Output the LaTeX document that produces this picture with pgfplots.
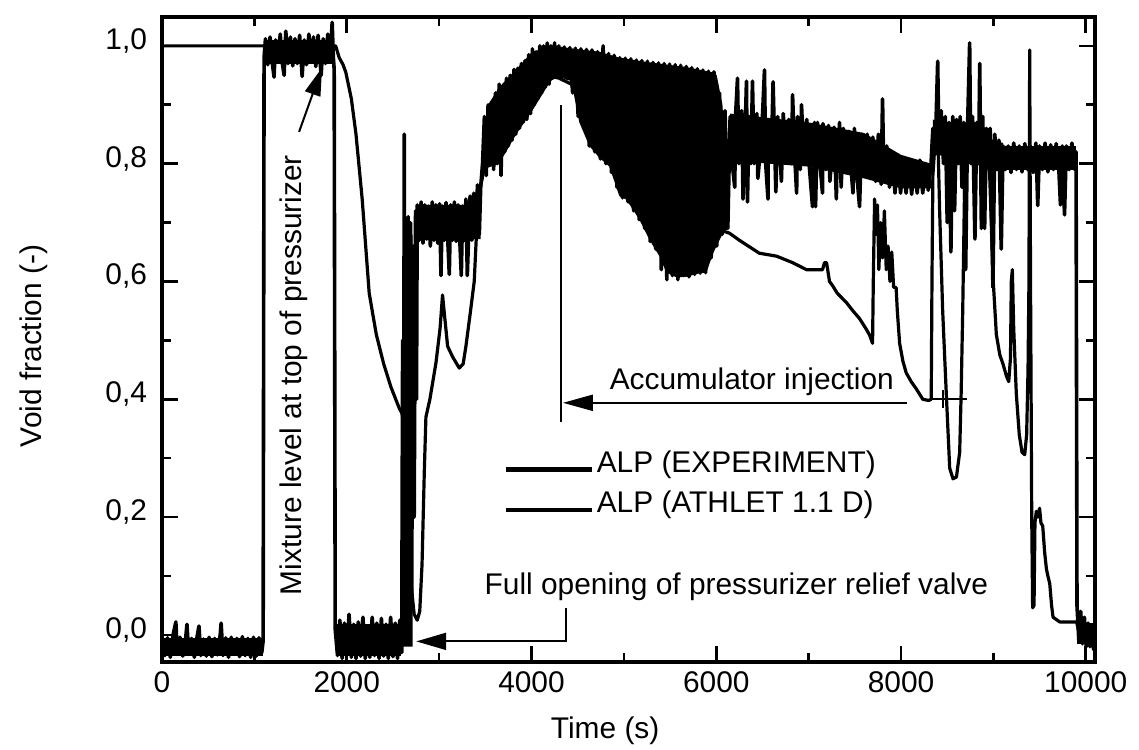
\documentclass[border=0pt]{standalone}
\usepackage{fontspec}
\setmainfont{Liberation Sans}
\usepackage{pgfplots}
\pgfplotsset{compat=1.18}
\usetikzlibrary{arrows.meta}
\newcommand\lbl{\fontsize{15}{18}\selectfont}
\begin{document}
\begin{tikzpicture}
\begin{axis}[
  scale only axis, width=466.5bp, height=322.5bp,
  xmin=0, xmax=10100, ymin=-0.046, ymax=1.049,
  clip=false, scaled x ticks=false, scaled y ticks=false,
  axis line style={line width=1.6bp},
  tick style={black, line width=1.3bp},
  major tick length=8bp, minor tick length=4.5bp,
  tick align=inside,
  xtick={0,2000,4000,6000,8000,10000},
  xticklabels={0,2000,4000,6000,8000,10000},
  minor xtick={1000,3000,5000,7000,9000},
  ytick={0,0.2,0.4,0.6,0.8,1},
  yticklabels={{0,0},{0,2},{0,4},{0,6},{0,8},{1,0}},
  minor ytick={0.1,0.3,0.5,0.7,0.9},
  ticklabel style={font=\lbl},
  xticklabel style={yshift=-1.5bp},
  yticklabel style={xshift=-4bp, yshift=2.5bp},
]
\addplot[fill=black, draw=none] coordinates {(0,-0.036)(1095,-0.036)(1095,-0.006)(0,-0.006)} -- cycle;
\addplot[fill=black, draw=none] coordinates {(1110,0.97)(1860,0.97)(1860,1.01)(1110,1.01)} -- cycle;
\addplot[fill=black, draw=none] coordinates {(1880,-0.036)(2590,-0.036)(2590,0.018)(1880,0.018)} -- cycle;
\addplot[fill=black, draw=none] coordinates {(2605,-0.02)(2712,-0.02)(2712,0.68)(2605,0.62)} -- cycle;
\addplot[fill=black, draw=none] coordinates {(2765,0.67)(3450,0.672)(3450,0.73)(2765,0.73)} -- cycle;
\addplot[fill=black, draw=none] coordinates {(3470,0.79)(3650,0.80)(3835,0.85)(4009,0.89)(4193,0.937)(4250,0.947)(4250,1.0)(4009,0.99)(3835,0.96)(3651,0.93)(3530,0.9)(3470,0.85)} -- cycle;
\addplot[fill=black, draw=none] coordinates {(4250,1.0)(4376,0.997)(4518,0.994)(4735,0.99)(4951,0.98)(5276,0.972)(5677,0.964)(5959,0.955)(6005,0.95)(6067,0.9)(6125,0.75)(6125,0.69)(6067,0.68)(6002,0.66)(5959,0.645)(5894,0.615)(5818,0.614)(5677,0.608)(5570,0.607)(5460,0.615)(5384,0.643)(5276,0.671)(5168,0.705)(5027,0.739)(4951,0.745)(4843,0.795)(4735,0.81)(4626,0.83)(4518,0.87)(4431,0.94)(4250,0.95)} -- cycle;
\addplot[fill=black, draw=none] coordinates {(6150,0.805)(7000,0.795)(7600,0.775)(8000,0.758)(8325,0.758)(8325,0.80)(8000,0.815)(7600,0.852)(7000,0.87)(6150,0.885)} -- cycle;
\addplot[fill=black, draw=none] coordinates {(8345,0.815)(9105,0.805)(9105,0.835)(8345,0.875)} -- cycle;
\addplot[fill=black, draw=none] coordinates {(9130,0.79)(9895,0.79)(9895,0.83)(9130,0.83)} -- cycle;
\addplot[fill=black, draw=none] coordinates {(9905,-0.015)(10090,-0.015)(10090,0.02)(9905,0.02)} -- cycle;
% EXPERIMENT trace
\addplot[black, line width=1.8bp, line join=round] coordinates {
(0,-0.02)(30,-0.035)(60,-0.005)(90,-0.038)(120,0.0)(150,0.022)(165,-0.03)(195,-0.004)(225,-0.036)(255,-0.008)(270,0.018)(290,-0.033)(320,-0.006)(350,-0.038)(380,-0.003)(400,0.015)(420,-0.035)(450,-0.007)(480,-0.036)(510,-0.004)(540,-0.037)(570,-0.006)(600,-0.034)(630,0.0)(640,0.02)(660,-0.035)(690,-0.005)(720,-0.038)(750,-0.004)(780,-0.033)(810,-0.006)(840,-0.037)(870,-0.003)(900,-0.035)(930,-0.006)(960,-0.038)(990,-0.004)(1020,-0.036)(1050,-0.005)(1080,-0.03)(1095,-0.01)
(1105,0.98)(1120,1.012)(1145,0.968)(1170,1.015)(1195,0.97)(1213,0.947)(1230,1.01)(1255,0.972)(1280,1.02)(1305,0.968)(1322,0.95)(1340,1.025)(1365,0.97)(1390,1.015)(1415,0.966)(1440,1.012)(1465,0.97)(1490,1.018)(1517,0.948)(1540,1.01)(1565,0.968)(1590,1.02)(1615,0.972)(1640,1.015)(1665,0.965)(1690,1.018)(1723,0.95)(1745,1.012)(1770,0.97)(1795,1.02)(1820,0.975)(1842,1.04)(1855,0.98)(1864,0.96)
(1875,0.01)(1900,-0.035)(1925,0.025)(1950,-0.04)(1975,0.02)(2000,-0.035)(2025,0.035)(2050,-0.038)(2075,0.018)(2100,-0.04)(2125,0.022)(2150,-0.036)(2175,0.03)(2200,-0.04)(2225,0.015)(2250,-0.038)(2275,0.03)(2300,-0.035)(2325,0.02)(2350,-0.04)(2375,0.028)(2400,-0.036)(2425,0.018)(2450,-0.04)(2475,0.03)(2500,-0.037)(2525,0.02)(2550,-0.04)(2575,0.025)(2595,-0.03)
(2605,0.5)(2615,0.02)(2622,0.85)(2630,0.05)(2645,0.68)(2655,0.1)(2665,0.71)(2678,0.15)(2690,0.7)(2703,0.05)(2716,0.66)(2730,0.2)(2745,0.72)(2755,0.4)
(2763,0.73)(2785,0.67)(2805,0.735)(2825,0.665)(2845,0.73)(2865,0.672)(2885,0.728)(2905,0.66)(2925,0.735)(2945,0.67)(2965,0.73)(2985,0.665)(3005,0.732)(3020,0.61)(3035,0.728)(3055,0.67)(3075,0.734)(3095,0.665)(3110,0.612)(3125,0.73)(3145,0.67)(3165,0.735)(3185,0.668)(3205,0.73)(3225,0.665)(3240,0.61)(3255,0.728)(3275,0.67)(3290,0.74)(3305,0.61)(3320,0.68)(3335,0.745)(3355,0.67)(3375,0.75)(3395,0.675)(3415,0.764)(3435,0.68)(3450,0.76)
(3470,0.80)(3490,0.88)(3510,0.78)(3530,0.9)(3550,0.8)(3570,0.905)(3590,0.79)(3610,0.92)(3630,0.8)(3650,0.935)(3670,0.78)(3690,0.93)(3710,0.82)(3730,0.945)(3750,0.83)(3770,0.95)(3790,0.84)(3810,0.96)(3830,0.85)(3850,0.962)(3870,0.86)(3890,0.97)(3910,0.87)(3930,0.975)(3950,0.875)(3970,0.985)(3990,0.885)(4010,0.995)(4030,0.9)(4050,0.99)(4070,0.91)(4090,1.0)(4110,0.92)(4130,1.0)(4150,0.93)(4170,1.005)(4190,0.935)(4210,1.0)(4230,0.945)(4250,1.005)
(4265,0.948)(4295,1.0)(4325,0.946)(4355,0.998)(4385,0.944)(4415,0.997)(4445,0.92)(4475,0.996)(4505,0.88)(4535,0.995)(4565,0.86)(4595,0.994)(4625,0.83)(4655,0.993)(4685,0.82)(4715,0.99)(4745,0.808)(4775,1.0)(4805,0.80)(4835,0.987)(4865,0.785)(4895,0.984)(4925,0.76)(4955,0.98)(4985,0.742)(5015,0.979)(5045,0.735)(5075,0.978)(5105,0.72)(5135,0.976)(5165,0.705)(5195,0.975)(5225,0.69)(5255,0.974)(5285,0.668)(5315,0.972)(5345,0.655)(5375,0.971)(5405,0.62)(5435,0.97)(5465,0.603)(5495,0.969)(5525,0.61)(5555,0.968)(5585,0.603)(5615,0.967)(5645,0.61)(5675,0.965)(5705,0.608)(5735,0.963)(5765,0.612)(5795,0.961)(5825,0.614)(5855,0.959)(5885,0.615)(5915,0.957)(5945,0.64)(5975,0.956)(6005,0.66)(6035,0.92)(6065,0.68)(6095,0.89)(6125,0.69)
(6150,0.88)(6180,0.79)(6200,0.76)(6210,0.885)(6230,0.945)(6245,0.80)(6275,0.89)(6290,0.74)(6305,0.81)(6327,0.94)(6338,0.735)(6355,0.88)(6375,0.80)(6392,0.94)(6410,0.80)(6440,0.885)(6450,0.775)(6470,0.81)(6500,0.88)(6522,0.959)(6535,0.80)(6560,0.74)(6565,0.875)(6595,0.805)(6615,0.939)(6645,0.752)(6665,0.88)(6695,0.80)(6705,0.77)(6725,0.885)(6755,0.81)(6785,0.875)(6815,0.80)(6826,0.917)(6850,0.81)(6870,0.75)(6880,0.88)(6910,0.79)(6923,0.90)(6950,0.80)(6980,0.875)(7010,0.79)(7042,0.727)(7064,0.87)(7075,0.727)(7095,0.87)(7125,0.795)(7150,0.75)(7155,0.868)(7185,0.79)(7215,0.865)(7230,0.77)(7245,0.80)(7275,0.862)(7300,0.74)(7305,0.785)(7335,0.87)(7352,0.76)(7375,0.86)(7405,0.785)(7435,0.855)(7465,0.78)(7480,0.75)(7495,0.86)(7525,0.775)(7551,0.727)(7575,0.85)(7605,0.78)(7635,0.85)(7665,0.775)(7695,0.845)(7725,0.77)(7755,0.85)(7785,0.765)(7800,0.91)(7815,0.77)(7845,0.83)(7875,0.76)(7905,0.82)(7935,0.75)(7965,0.815)(7995,0.75)(8025,0.80)(8055,0.75)(8085,0.805)(8115,0.748)(8145,0.80)(8175,0.75)(8205,0.806)(8235,0.75)(8265,0.80)(8295,0.755)(8325,0.80)
(8345,0.86)(8370,0.82)(8397,0.974)(8410,0.84)(8435,0.89)(8460,0.80)(8480,0.88)(8500,0.70)(8520,0.87)(8540,0.65)(8560,0.88)(8580,0.72)(8600,0.875)(8620,0.80)(8640,0.88)(8660,0.76)(8680,0.87)(8700,0.62)(8720,0.86)(8743,1.005)(8755,0.80)(8775,0.88)(8800,0.672)(8820,0.87)(8840,0.80)(8852,0.97)(8870,0.69)(8885,0.88)(8905,0.69)(8925,0.86)(8945,0.80)(8965,0.86)(8995,0.59)(9015,0.85)(9040,0.79)(9060,0.84)(9085,0.655)(9105,0.83)
(9130,0.79)(9160,0.83)(9190,0.785)(9220,0.835)(9250,0.79)(9280,0.83)(9310,0.786)(9340,0.834)(9370,0.79)(9400,0.83)(9430,0.785)(9460,0.835)(9480,0.729)(9500,0.83)(9530,0.79)(9560,0.835)(9590,0.786)(9620,0.832)(9650,0.79)(9680,0.834)(9710,0.785)(9726,0.73)(9745,0.83)(9770,0.713)(9790,0.83)(9820,0.79)(9850,0.835)(9880,0.79)(9895,0.82)
(9905,0.05)(9925,-0.01)(9945,0.04)(9965,-0.015)(9985,0.03)(10005,-0.02)(10025,0.02)(10045,-0.02)(10065,0.01)(10085,-0.025)(10100,-0.01)
};
% ATHLET
\addplot[black, line width=1.6bp, line join=round] coordinates {
(0,1.0)(1100,1.0)(1880,1.0)(1918,0.98)(1960,0.968)(1990,0.955)(2050,0.91)(2100,0.85)(2167,0.74)(2243,0.58)(2320,0.51)(2400,0.46)(2480,0.42)(2568,0.385)(2600,0.375)(2640,0.33)(2670,0.2)(2700,0.08)(2730,0.035)(2763,0.025)(2790,0.04)(2815,0.12)(2840,0.28)(2857,0.37)(2900,0.40)(2965,0.461)(3010,0.52)(3037,0.577)(3060,0.54)(3092,0.49)(3146,0.472)(3218,0.453)(3260,0.46)(3290,0.49)(3340,0.55)(3380,0.60)(3410,0.70)(3435,0.75)(3510,0.81)(3600,0.835)(3684,0.85)(3800,0.875)(3900,0.90)(4009,0.915)(4100,0.93)(4200,0.945)(4247,0.947)(4300,0.945)(4431,0.935)(4600,0.89)(4800,0.83)(5000,0.78)(5300,0.74)(5600,0.715)(5900,0.695)(6143,0.682)(6250,0.67)(6466,0.648)(6652,0.643)(6826,0.632)(6977,0.62)(7150,0.62)(7172,0.632)(7194,0.632)(7226,0.60)(7259,0.593)(7310,0.58)(7405,0.565)(7480,0.55)(7551,0.537)(7620,0.52)(7660,0.509)(7692,0.495)(7700,0.60)(7714,0.74)(7730,0.68)(7745,0.73)(7760,0.62)(7780,0.70)(7800,0.64)(7820,0.72)(7840,0.62)(7860,0.66)(7880,0.60)(7900,0.65)(7920,0.59)(7947,0.59)(7960,0.55)(7985,0.495)(8020,0.465)(8056,0.445)(8110,0.43)(8164,0.418)(8236,0.40)(8300,0.398)(8327,0.40)(8335,0.6)(8345,0.78)(8370,0.84)(8397,0.86)(8418,0.72)(8451,0.55)(8490,0.41)(8527,0.283)(8563,0.265)(8600,0.268)(8635,0.31)(8651,0.41)(8668,0.55)(8690,0.78)(8710,0.84)(8740,0.85)(8780,0.84)(8830,0.845)(8880,0.84)(8920,0.83)(8960,0.78)(8996,0.607)(9032,0.51)(9070,0.475)(9104,0.46)(9140,0.44)(9166,0.43)(9185,0.47)(9194,0.6)(9205,0.62)(9220,0.52)(9248,0.41)(9280,0.34)(9310,0.31)(9339,0.306)(9360,0.34)(9375,0.45)(9385,0.6)(9393,0.993)(9402,0.6)(9415,0.2)(9425,0.046)(9440,0.05)(9450,0.19)(9465,0.21)(9480,0.2)(9500,0.215)(9515,0.19)(9534,0.185)(9555,0.14)(9574,0.112)(9590,0.10)(9610,0.087)(9630,0.05)(9646,0.03)(9718,0.022)(9900,0.022)(9935,0.0)(10043,-0.01)(10100,-0.01)
};
% annotations
\draw[line width=1bp,-{Triangle[length=14bp,width=8bp]}] (axis cs:1484,0.854) -- (axis cs:1733,0.963);
\node[rotate=90,font=\lbl] at (axis cs:1430,0.441) {Mixture level at top of pressurizer};
\draw[line width=0.9bp] (axis cs:4323,0.90) -- (axis cs:4323,0.362);
\draw[line width=1bp,-{Triangle[length=15bp,width=8bp]}] (axis cs:8060,0.394) -- (axis cs:4340,0.394);
\node[font=\lbl,anchor=base west,inner sep=0pt] at (axis cs:4843,0.416) {Accumulator injection};
\draw[line width=0.9bp] (axis cs:8310,0.40) -- (axis cs:8710,0.40);
\draw[line width=0.9bp] (axis cs:8451,0.385) -- (axis cs:8451,0.415);
\draw[line width=2.5bp] (axis cs:3727,0.28) -- (axis cs:4659,0.28);
\node[font=\lbl,anchor=base west,inner sep=0pt] at (axis cs:4702,0.275) {ALP (EXPERIMENT)};
\draw[line width=1.6bp] (axis cs:3727,0.212) -- (axis cs:4659,0.212);
\node[font=\lbl,anchor=base west,inner sep=0pt] at (axis cs:4702,0.207) {ALP (ATHLET 1.1 D)};
\node[font=\lbl,anchor=base west,inner sep=0pt] at (axis cs:3489,0.068) {Full opening of pressurizer relief valve};
\draw[line width=1bp,-{Triangle[length=15bp,width=8.5bp]}] (axis cs:4377,0.046) -- (axis cs:4377,-0.011) -- (axis cs:2752,-0.011);
\node[rotate=90,font=\lbl] at ([xshift=-64bp]rel axis cs:0,0.49) {Void fraction (-)};
\node[font=\lbl] at ([yshift=-34.5bp]rel axis cs:0.475,0) {Time (s)};
\coordinate (BL) at (rel axis cs:0,0);
\coordinate (TR) at (rel axis cs:1,1);
\end{axis}
\pgfresetboundingbox
\path ([shift={(-81bp,-44bp)}]BL) rectangle ([shift={(22bp,8.5bp)}]TR);
\end{tikzpicture}
\end{document}
